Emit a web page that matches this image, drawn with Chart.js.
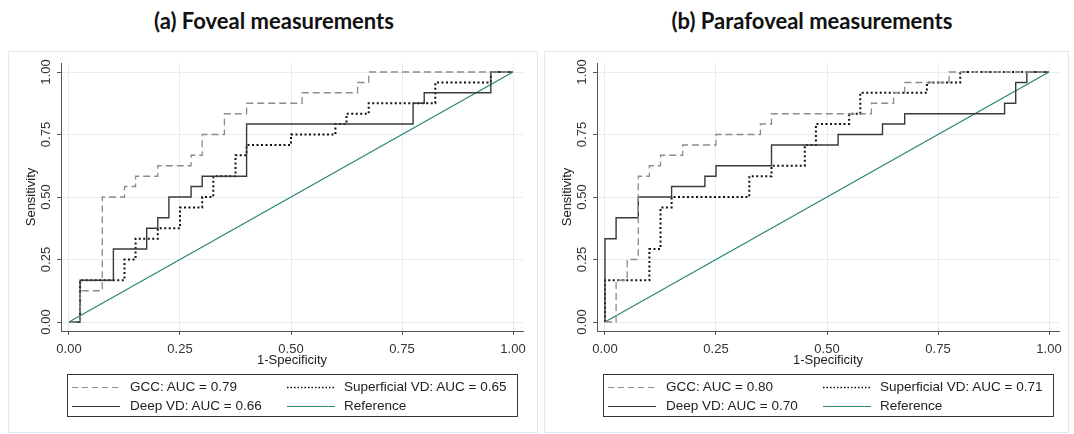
<!DOCTYPE html>
<html lang="en">
<head>
<meta charset="UTF-8">
<title>ROC curves - foveal and parafoveal</title>
<script src="https://cdn.jsdelivr.net/npm/chart.js"></script>
<style>
    body {
        margin: 0;
        background: #ffffff;
        font-family: 'Liberation Sans', Arial, sans-serif;
    }
    #wrap { position: relative; width: 1074px; height: 434px; overflow: hidden; }
    .panel {
        position: absolute;
        top: 51px;
        height: 382px;
        border: 1px solid #e1e9ee;
        box-sizing: border-box;
    }
    .title {
        position: absolute;
        top: 7px;
        transform: translateX(-50%);
        font-family: Lato, 'Open Sans', sans-serif;
        font-weight: bold;
        font-size: 22px;
        color: #111;
        white-space: nowrap;
    }
    .plot { position: absolute; top: 0; width: 538px; height: 434px; }
    .plot canvas { position: absolute; left: 0; top: 0; }
    .legend {
        position: absolute;
        left: 67px;
        top: 374px;
        width: 451px;
        height: 43px;
        border: 1px solid #333;
        box-sizing: border-box;
        font-size: 13.5px;
        color: #222;
    }
    .legend canvas { position: absolute; }
    .legend span { position: absolute; line-height: 16px; white-space: nowrap; }
</style>
</head>
<body>
<div id="wrap">
    <div class="panel" style="left: 8px; width: 530px;"></div>
    <div class="panel" style="left: 544px; width: 525px;"></div>
    <div class="title" style="left: 274px;">(a) Foveal measurements</div>
    <div class="title" style="left: 812px;">(b) Parafoveal measurements</div>
    <div class="plot" style="left: 0;">
        <canvas id="fovChart" width="538" height="434"></canvas>
        <div class="legend" id="fovLegend"></div>
    </div>
    <div class="plot" style="left: 536px;">
        <canvas id="paraChart" width="538" height="434"></canvas>
        <div class="legend" id="paraLegend"></div>
    </div>
</div>

<script>
    const xTicks = [0, 0.25, 0.5, 0.75, 1];
    const yTicks = [0, 0.25, 0.5, 0.75, 1];

    const seriesNames = ['GCC', 'Deep VD', 'Superficial VD', 'Reference'];
    const fovAuc = [0.79, 0.66, 0.65];
    const paraAuc = [0.80, 0.70, 0.71];

    // (a) foveal ROC points (1-specificity, sensitivity)
    const fovGccX = [0, 0.025, 0.075, 0.125, 0.15, 0.2, 0.275, 0.3, 0.35, 0.4, 0.525, 0.65, 0.675, 1];
    const fovGccY = [0, 0.125, 0.5, 0.542, 0.583, 0.625, 0.667, 0.75, 0.833, 0.875, 0.917, 0.958, 1, 1];
    const fovDeepX = [0, 0.025, 0.1, 0.175, 0.2, 0.225, 0.275, 0.3, 0.4, 0.775, 0.8, 0.95, 1];
    const fovDeepY = [0, 0.167, 0.292, 0.375, 0.417, 0.5, 0.542, 0.583, 0.792, 0.875, 0.917, 1, 1];
    const fovSupX = [0, 0.025, 0.125, 0.15, 0.2, 0.25, 0.3, 0.325, 0.375, 0.4, 0.5, 0.6, 0.625, 0.675, 0.825, 0.95, 1];
    const fovSupY = [0, 0.167, 0.25, 0.333, 0.375, 0.458, 0.5, 0.583, 0.667, 0.708, 0.75, 0.792, 0.833, 0.875, 0.958, 1, 1];

    // (b) parafoveal ROC points
    const paraGccX = [0, 0.025, 0.05, 0.075, 0.1, 0.125, 0.175, 0.25, 0.35, 0.375, 0.6, 0.65, 0.675, 0.775, 1];
    const paraGccY = [0, 0.167, 0.25, 0.583, 0.625, 0.667, 0.708, 0.75, 0.792, 0.833, 0.875, 0.917, 0.958, 1, 1];
    const paraDeepX = [0, 0, 0.025, 0.075, 0.15, 0.225, 0.25, 0.375, 0.525, 0.625, 0.675, 0.9, 0.925, 0.95, 1];
    const paraDeepY = [0, 0.333, 0.417, 0.5, 0.542, 0.583, 0.625, 0.708, 0.75, 0.792, 0.833, 0.875, 0.958, 1, 1];
    const paraSupX = [0, 0, 0.1, 0.125, 0.15, 0.325, 0.375, 0.45, 0.475, 0.55, 0.575, 0.725, 0.8, 1];
    const paraSupY = [0, 0.167, 0.292, 0.458, 0.5, 0.583, 0.625, 0.708, 0.792, 0.833, 0.917, 0.958, 1, 1];

    const refX = [0, 1];
    const refY = [0, 1];

    const lineStyles = [
        { color: '#8c8c8c', width: 1.3, dash: [7, 4], legendDash: [6, 4], legendWidth: 1 },
        { color: '#3a3a3a', width: 1.4, dash: [], legendDash: [], legendWidth: 1.2 },
        { color: '#111111', width: 2, dash: [2, 2.5], legendDash: [1.5, 2], legendWidth: 1.6 },
        { color: '#2b8574', width: 1.3, dash: [], legendDash: [], legendWidth: 1.2 }
    ];

    function pts(xs, ys) {
        return xs.map((x, i) => ({ x: x, y: ys[i] }));
    }

    function makeChart(canvasId, curves) {
        const datasets = curves.map((c, i) => ({
            label: seriesNames[i],
            data: pts(c[0], c[1]),
            borderColor: lineStyles[i].color,
            borderWidth: lineStyles[i].width,
            borderDash: lineStyles[i].dash,
            stepped: i < 3 ? 'before' : false,
            pointRadius: 0,
            fill: false,
            tension: 0
        }));

        return new Chart(document.getElementById(canvasId), {
            type: 'line',
            data: { datasets: datasets },
            options: {
                responsive: false,
                animation: false,
                layout: { padding: { left: 0, top: 63, right: 15, bottom: 66 } },
                plugins: { legend: { display: false }, tooltip: { enabled: false } },
                scales: {
                    x: {
                        type: 'linear',
                        min: -0.018,
                        max: 1.0225,
                        afterBuildTicks: s => { s.ticks = xTicks.map(v => ({ value: v })); },
                        afterFit: s => { s.height = 37; },
                        ticks: {
                            callback: v => v.toFixed(2),
                            padding: 7,
                            maxRotation: 0,
                            font: { size: 13 },
                            color: '#333'
                        },
                        grid: { color: '#e4edf2', tickColor: '#555', tickLength: 4 },
                        border: { color: '#555', width: 1 },
                        title: {
                            display: true,
                            text: '1-Specificity',
                            font: { size: 13 },
                            color: '#222',
                            padding: { top: 0, bottom: 0 }
                        }
                    },
                    y: {
                        type: 'linear',
                        min: -0.036,
                        max: 1.036,
                        afterBuildTicks: s => { s.ticks = yTicks.map(v => ({ value: v })); },
                        afterFit: s => { s.width = 61; },
                        ticks: {
                            callback: v => v.toFixed(2),
                            minRotation: 90,
                            maxRotation: 90,
                            crossAlign: 'center',
                            padding: -2,
                            font: { size: 13 },
                            color: '#333'
                        },
                        grid: { color: '#e4edf2', tickColor: '#555', tickLength: 4 },
                        border: { color: '#555', width: 1 },
                        title: {
                            display: true,
                            text: 'Sensitivity',
                            font: { size: 13 },
                            color: '#222',
                            padding: { top: 24, bottom: 0 }
                        }
                    }
                }
            }
        });
    }

    function makeLegend(boxId, auc) {
        const box = document.getElementById(boxId);
        const labels = seriesNames.map((n, i) => i < 3 ? n + ': AUC = ' + auc[i].toFixed(2) : n);
        // order as in the picture: GCC, Superficial / Deep, Reference
        const slots = [[0, 0, 0], [2, 1, 0], [1, 0, 1], [3, 1, 1]];
        slots.forEach(([idx, col, row]) => {
            const cy = row === 0 ? 12 : 31;
            const sx = col === 0 ? 4 : 219;
            const tx = col === 0 ? 62 : 276;
            const cv = document.createElement('canvas');
            cv.width = 48; cv.height = 8;
            cv.style.left = sx + 'px';
            cv.style.top = (cy - 4) + 'px';
            const g = cv.getContext('2d');
            const st = lineStyles[idx];
            g.strokeStyle = st.color;
            g.lineWidth = st.legendWidth;
            g.setLineDash(st.legendDash);
            g.beginPath();
            g.moveTo(0, 4.5);
            g.lineTo(48, 4.5);
            g.stroke();
            box.appendChild(cv);
            const sp = document.createElement('span');
            sp.textContent = labels[idx];
            sp.style.left = tx + 'px';
            sp.style.top = (cy - 8) + 'px';
            box.appendChild(sp);
        });
    }

    makeChart('fovChart', [[fovGccX, fovGccY], [fovDeepX, fovDeepY], [fovSupX, fovSupY], [refX, refY]]);
    makeChart('paraChart', [[paraGccX, paraGccY], [paraDeepX, paraDeepY], [paraSupX, paraSupY], [refX, refY]]);
    makeLegend('fovLegend', fovAuc);
    makeLegend('paraLegend', paraAuc);
</script>
</body>
</html>
